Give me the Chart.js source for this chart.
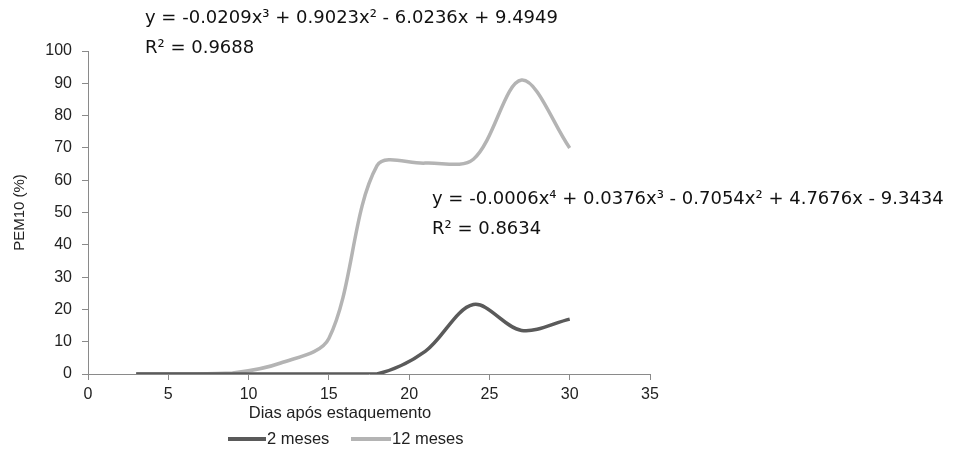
<!DOCTYPE html>
<html><head><meta charset="utf-8">
<script src="https://cdn.jsdelivr.net/npm/chart.js@4.4.0/dist/chart.umd.min.js"></script>
<style>html,body{margin:0;padding:0;background:#fff;}#wrap{width:962px;height:454px;}</style>
</head><body><div id="wrap"><canvas id="c" width="962" height="454"></canvas></div>
<script>
const days = [3, 6, 9, 12, 15, 18, 21, 24, 27, 30];
const meses2 = [0, 0, 0, 0, 0, 0, 7, 21.5, 13.5, 17];
const meses12 = [0, 0, 0.3, 3.4, 11, 64.5, 65.3, 66.5, 91, 70];
const seriesNames = ['2 meses', '12 meses'];
const xTicks = [0, 5, 10, 15, 20, 25, 30, 35];
const yTicks = [0, 10, 20, 30, 40, 50, 60, 70, 80, 90, 100];
const eq12 = ['y = -0.0209x³ + 0.9023x² - 6.0236x + 9.4949', 'R² = 0.9688'];
const eq2 = ['y = -0.0006x⁴ + 0.0376x³ - 0.7054x² + 4.7676x - 9.3434', 'R² = 0.8634'];
const xTitle = 'Dias após estaquemento';
const yTitle = 'PEM10 (%)';

const colors = ['#5a5a5a', '#b4b4b4'];
const axisFont = '"Liberation Sans", Arial, sans-serif';
const eqFont = '"DejaVu Sans", sans-serif';

const overlay = {
  id: 'overlay',
  afterDraw(chart) {
    const ctx = chart.ctx;
    ctx.save();
    // equations
    ctx.fillStyle = '#111';
    ctx.font = '18px ' + eqFont;
    ctx.textBaseline = 'middle';
    ctx.textAlign = 'left';
    ctx.fillText(eq12[0], 145, 18);
    ctx.fillText(eq12[1], 145, 48);
    ctx.fillText(eq2[0], 432, 199);
    ctx.fillText(eq2[1], 432, 229);
    // x title
    ctx.fillStyle = '#222';
    ctx.font = '16.5px ' + axisFont;
    ctx.textAlign = 'center';
    ctx.fillText(xTitle, 340, 413);
    // legend
    const items = [{x: 228, w: 38}, {x: 351, w: 40}];
    ctx.textAlign = 'left';
    items.forEach((it, i) => {
      ctx.strokeStyle = colors[i];
      ctx.lineWidth = 4;
      ctx.beginPath();
      ctx.moveTo(it.x, 439);
      ctx.lineTo(it.x + it.w, 439);
      ctx.stroke();
      ctx.fillText(seriesNames[i], it.x + it.w + 1, 439);
    });
    ctx.restore();
  }
};

new Chart(document.getElementById('c'), {
  type: 'line',
  data: {
    datasets: [
      {label: seriesNames[0], data: days.map((d, i) => ({x: d, y: meses2[i]})),
       borderColor: colors[0], borderWidth: 3.5, pointRadius: 0, tension: 0.33, fill: false},
      {label: seriesNames[1], data: days.map((d, i) => ({x: d, y: meses12[i]})),
       borderColor: colors[1], borderWidth: 3.5, pointRadius: 0, tension: 0.33, fill: false}
    ]
  },
  options: {
    responsive: false,
    animation: false,
    devicePixelRatio: 1,
    layout: {padding: {left: 0, right: 312, top: 51, bottom: 0}},
    plugins: {legend: {display: false}, tooltip: {enabled: false}, title: {display: false}},
    scales: {
      x: {
        type: 'linear', min: 0, max: 35,
        afterBuildTicks: s => { s.ticks = xTicks.map(v => ({value: v})); },
        afterFit: s => { s.height = 80; },
        grid: {display: true, drawOnChartArea: false, drawTicks: true, tickLength: 6, color: '#8a8a8a'},
        border: {color: '#8a8a8a', width: 1},
        ticks: {color: '#222', font: {family: axisFont, size: 16}, padding: 5, maxRotation: 0}
      },
      y: {
        min: 0, max: 100,
        afterBuildTicks: s => { s.ticks = yTicks.map(v => ({value: v})); },
        afterFit: s => { s.width = 88; },
        grid: {display: true, drawOnChartArea: false, drawTicks: true, tickLength: 6, color: '#8a8a8a'},
        border: {color: '#8a8a8a', width: 1},
        ticks: {color: '#222', font: {family: axisFont, size: 16}, padding: 10},
        title: {display: true, text: yTitle, color: '#222', font: {family: axisFont, size: 15}, padding: {top: 11, bottom: 0}}
      }
    }
  },
  plugins: [overlay]
});
</script></body></html>
